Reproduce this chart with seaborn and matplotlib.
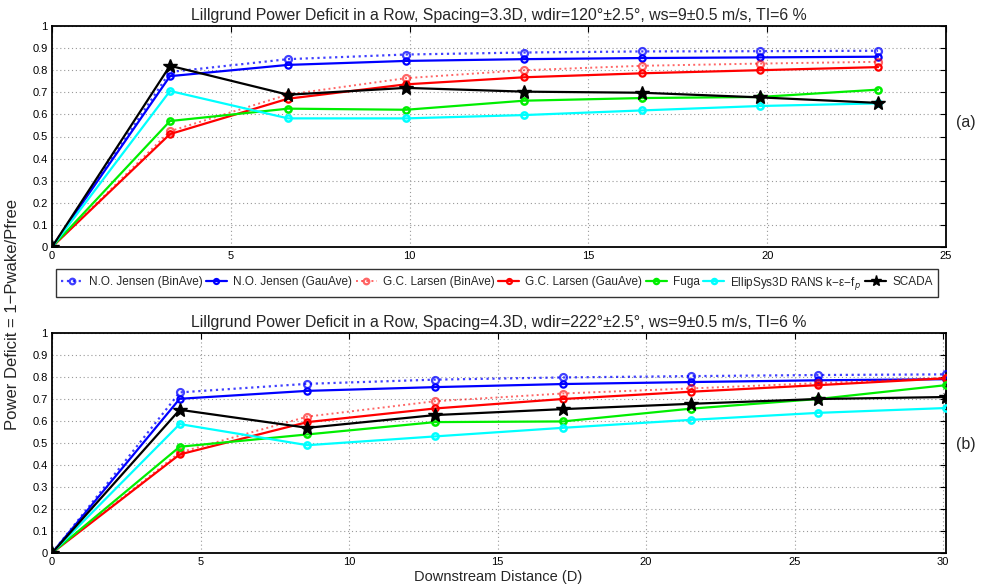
import numpy as np
import pandas as pd
import matplotlib
matplotlib.use("Agg")
import matplotlib.pyplot as plt
import seaborn as sns

# ---- data ----
x_a = [0, 3.3, 6.6, 9.9, 13.2, 16.5, 19.8, 23.1]
x_b = [0, 4.3, 8.6, 12.9, 17.2, 21.5, 25.8, 30.1]

series_names = ["N.O. Jensen (BinAve)", "N.O. Jensen (GauAve)", "G.C. Larsen (BinAve)",
                "G.C. Larsen (GauAve)", "Fuga", "EllipSys3D RANS k\u2212\u03b5\u2212f$_p$", "SCADA"]

jensen_bin_a = [0, 0.792, 0.850, 0.871, 0.880, 0.885, 0.886, 0.888]
jensen_gau_a = [0, 0.773, 0.824, 0.842, 0.850, 0.855, 0.858, 0.861]
larsen_bin_a = [0, 0.524, 0.690, 0.764, 0.800, 0.820, 0.830, 0.838]
larsen_gau_a = [0, 0.511, 0.671, 0.736, 0.768, 0.786, 0.800, 0.814]
fuga_a       = [0, 0.570, 0.626, 0.621, 0.662, 0.674, 0.679, 0.712]
ellipsys_a   = [0, 0.706, 0.582, 0.582, 0.597, 0.618, 0.638, 0.650]
scada_a      = [0, 0.820, 0.689, 0.720, 0.703, 0.698, 0.677, 0.652]

jensen_bin_b = [0, 0.730, 0.769, 0.788, 0.798, 0.804, 0.809, 0.812]
jensen_gau_b = [0, 0.701, 0.737, 0.754, 0.768, 0.777, 0.785, 0.790]
larsen_bin_b = [0, 0.457, 0.620, 0.690, 0.725, 0.748, 0.772, 0.797]
larsen_gau_b = [0, 0.448, 0.595, 0.657, 0.700, 0.733, 0.763, 0.794]
fuga_b       = [0, 0.483, 0.539, 0.595, 0.598, 0.656, 0.700, 0.763]
ellipsys_b   = [0, 0.586, 0.490, 0.530, 0.569, 0.605, 0.637, 0.659]
scada_b      = [0, 0.651, 0.569, 0.627, 0.654, 0.678, 0.700, 0.709]

title_a = "Lillgrund Power Deficit in a Row, Spacing=3.3D, wdir=120°±2.5°, ws=9±0.5 m/s, TI=6 %"
title_b = "Lillgrund Power Deficit in a Row, Spacing=4.3D, wdir=222°±2.5°, ws=9±0.5 m/s, TI=6 %"
yticks = [0, 0.1, 0.2, 0.3, 0.4, 0.5, 0.6, 0.7, 0.8, 0.9, 1]
ytick_labels = ["0", "0.1", "0.2", "0.3", "0.4", "0.5", "0.6", "0.7", "0.8", "0.9", "1"]

# ---- styling ----
sns.set_theme(style="white")
plt.rcParams['font.family'] = ['Liberation Sans', 'DejaVu Sans']

styles = [
    dict(color="#0000ff", ls=":", lw=1.6, marker="o", mfc="none", ms=5, mew=1.6, alpha=0.75),
    dict(color="#0000ff", ls="-", lw=1.6, marker="o", mfc="none", ms=4.5, mew=1.6, alpha=1),
    dict(color="#ff0000", ls=":", lw=1.4, marker="o", mfc="none", ms=5, mew=1.6, alpha=0.6),
    dict(color="#ff0000", ls="-", lw=1.6, marker="o", mfc="none", ms=4.5, mew=1.6, alpha=1),
    dict(color="#00ee00", ls="-", lw=1.6, marker="o", mfc="none", ms=4.5, mew=1.8, alpha=1),
    dict(color="#00ffff", ls="-", lw=1.6, marker="o", mfc="none", ms=4.5, mew=1.8, alpha=1),
    dict(color="#000000", ls="-", lw=1.6, marker="*", mfc="#000000", ms=10, mew=1, alpha=1),
]

fig = plt.figure(figsize=(9.83, 5.88), dpi=100)
W, H = 983, 588
ax_a = fig.add_axes([52 / W, 1 - 247 / H, (946 - 52) / W, (247 - 26) / H])
ax_b = fig.add_axes([52 / W, 1 - 553 / H, (946 - 52) / W, (553 - 333) / H])

data_a = [jensen_bin_a, jensen_gau_a, larsen_bin_a, larsen_gau_a, fuga_a, ellipsys_a, scada_a]
data_b = [jensen_bin_b, jensen_gau_b, larsen_bin_b, larsen_gau_b, fuga_b, ellipsys_b, scada_b]

def draw(ax, xs, ys_list, title, xlim, xticks):
    for name, ys, st in zip(series_names, ys_list, styles):
        df = pd.DataFrame({"x": xs, "y": ys})
        sns.lineplot(data=df, x="x", y="y", ax=ax, color=st["color"], linestyle=st["ls"],
                     linewidth=st["lw"], marker=st["marker"], markerfacecolor=st["mfc"],
                     markeredgecolor=st["color"], markersize=st["ms"], markeredgewidth=st["mew"],
                     alpha=st["alpha"], label=name, legend=False, zorder=3)
    ax.set_xlim(*xlim)
    ax.set_ylim(0, 1)
    ax.set_xticks(xticks)
    ax.set_xticklabels([str(t) for t in xticks])
    ax.set_yticks(yticks)
    ax.set_yticklabels(ytick_labels)
    ax.set_xlabel("")
    ax.set_ylabel("")
    ax.set_title(title, fontsize=11.4, pad=4)
    ax.grid(True, color="#999999", linestyle=(0, (1, 2.5)), linewidth=0.8)
    ax.tick_params(direction="in", length=4, width=0.8, top=True, right=True,
                   labelsize=8, colors="black", pad=3)
    for sp in ax.spines.values():
        sp.set_color("black")
        sp.set_linewidth(1.3)

draw(ax_a, x_a, data_a, title_a, (0, 25), [0, 5, 10, 15, 20, 25])
draw(ax_b, x_b, data_b, title_b, (0, 30.1), [0, 5, 10, 15, 20, 25, 30])

fig.text(966 / W, 1 - 123 / H, "(a)", fontsize=11.5, ha="center", va="center")
fig.text(966 / W, 1 - 445 / H, "(b)", fontsize=11.5, ha="center", va="center")
fig.text(13 / W, 1 - 315 / H, "Power Deficit = 1\u2212Pwake/Pfree", rotation=90,
         fontsize=12, ha="center", va="center")
fig.text(498 / W, 1 - 577 / H, "Downstream Distance (D)", fontsize=10.5, ha="center", va="center")

handles, labels = ax_a.get_legend_handles_labels()
leg = fig.legend(handles, labels, loc="center", bbox_to_anchor=(497 / W, 1 - 283 / H),
                 ncol=7, fontsize=8.5, frameon=True, fancybox=False, edgecolor="black",
                 handlelength=1.8, handletextpad=0.5, columnspacing=0.3, borderpad=0.45,
                 borderaxespad=0, markerscale=0.8)
leg.get_frame().set_linewidth(1.0)

fig.savefig("out.png", dpi=100)
